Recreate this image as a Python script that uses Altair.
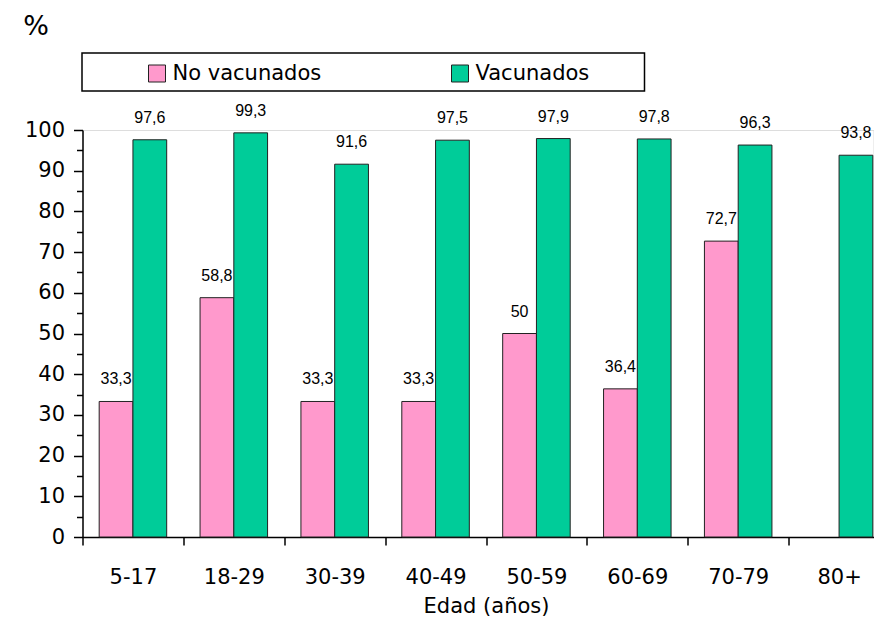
import altair as alt
import pandas as pd

grupos = ["5-17", "18-29", "30-39", "40-49", "50-59", "60-69", "70-79", "80+"]
no_vacunados = [33.3, 58.8, 33.3, 33.3, 50, 36.4, 72.7, None]
vacunados = [97.6, 99.3, 91.6, 97.5, 97.9, 97.8, 96.3, 93.8]
series = ["No vacunados", "Vacunados"]
colores = ["#FF99CC", "#00CC99"]
y_ticks = list(range(0, 101, 5))

rows = []
for g, a, b in zip(grupos, no_vacunados, vacunados):
    for s, v in zip(series, (a, b)):
        if v is None:
            continue
        rows.append({"edad": g, "serie": s, "valor": v,
                     "etiqueta": f"{v:g}".replace(".", ",")})
df = pd.DataFrame(rows)

FONT = "DejaVu Sans"

x_enc = alt.X(
    "edad:N", sort=grupos,
    scale=alt.Scale(range=[0, 807], paddingInner=0, paddingOuter=0),
    axis=alt.Axis(title="Edad (años)", labelAngle=0, tickBand="extent",
                  labelFontSize=21, labelFont=FONT, labelColor="black",
                  labelPadding=21, tickSize=8, tickWidth=1.5, tickColor="black",
                  domainColor="black", domainWidth=1.5,
                  titleFontSize=21, titleFont=FONT, titleFontWeight="normal",
                  titleColor="black", titlePadding=8),
)
xo_enc = alt.XOffset("serie:N", sort=series,
                     scale=alt.Scale(paddingInner=0, paddingOuter=0.494))
y_enc = alt.Y(
    "valor:Q",
    scale=alt.Scale(domain=[0, 100], nice=False),
    axis=alt.Axis(title="%", titleAngle=0, titleX=-47, titleY=-104,
                  titleFontSize=27, titleFont=FONT, titleFontWeight="normal",
                  titleAlign="center", titleBaseline="middle", titleColor="black",
                  values=y_ticks,
                  labelExpr="datum.value % 10 === 0 ? datum.label : ''",
                  tickSize={"condition": {"test": "datum.value % 10 === 0", "value": 9},
                            "value": 6},
                  tickWidth=1.5, tickColor="black",
                  domainColor="black", domainWidth=1.5,
                  labelFontSize=21, labelFont=FONT, labelColor="black",
                  labelPadding=9, grid=False, labelOverlap=False),
)

base = alt.Chart(df)

bars = base.mark_bar(stroke="#222222", strokeWidth=1).encode(
    x=x_enc, xOffset=xo_enc, y=y_enc,
    color=alt.Color("serie:N", sort=series,
                    scale=alt.Scale(domain=series, range=colores),
                    legend=alt.Legend(orient="none", legendX=64, legendY=-67,
                                      direction="horizontal", title=None,
                                      symbolType="square", symbolSize=289,
                                      symbolStrokeColor="#222222", symbolStrokeWidth=1,
                                      symbolOpacity=1,
                                      labelFontSize=21, labelFont=FONT, labelColor="black",
                                      labelOffset=5, columnPadding=128, padding=0)),
)

labels = base.mark_text(font="Liberation Sans Narrow, Liberation Sans", fontSize=16,
                        baseline="alphabetic", dy=-17, color="black").encode(
    x=x_enc, xOffset=xo_enc, y=y_enc, text="etiqueta:N",
)

frame = alt.Chart(pd.DataFrame({"k": [0]})).mark_rect(
    fillOpacity=0, stroke="black", strokeWidth=1.5).encode(
    x=alt.value(-0.5), x2=alt.value(562), y=alt.value(-77), y2=alt.value(-39),
)

chart = alt.layer(bars, labels, frame).properties(
    width=791, height=407,
    autosize=alt.AutoSizeParams(type="none"),
    padding={"left": 74.5, "top": 122, "right": 0, "bottom": 84},
).configure_view(stroke="transparent").configure(font=FONT)

chart.save("out.html", embed_options={"renderer": "svg", "actions": False})
